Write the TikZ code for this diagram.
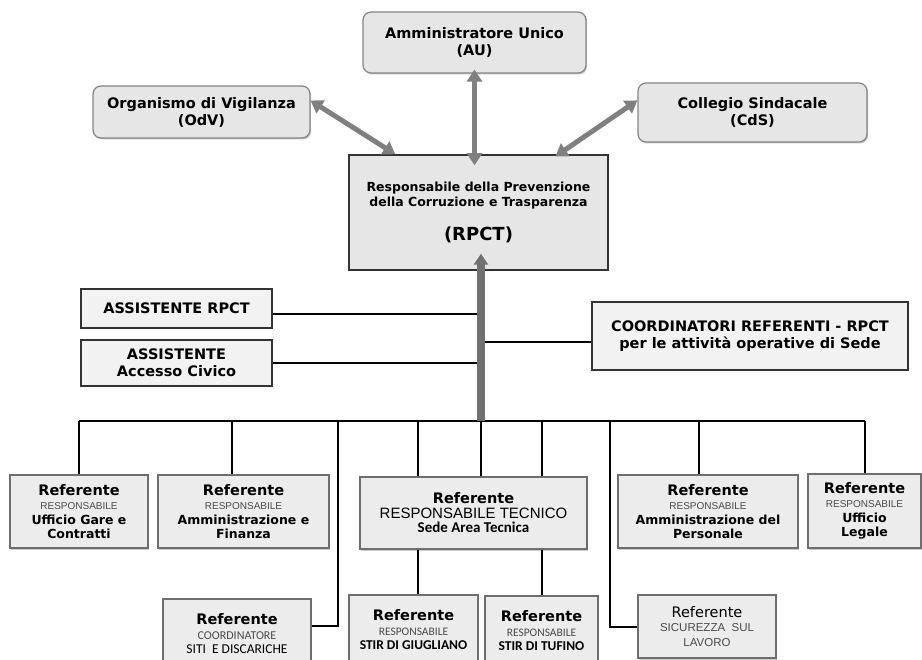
\documentclass[tikz,border=0pt]{standalone}
\usepackage{fontspec}
\setmainfont{DejaVu Sans}
\newfontfamily\arialf{Liberation Sans}
\newfontfamily\calibf{Carlito}
\usepackage{tikz}
\usetikzlibrary{calc,arrows.meta,shadows,positioning}
\definecolor{boxfill}{HTML}{E6E6E6}
\definecolor{reffill}{HTML}{ECECEC}
\definecolor{assfill}{HTML}{F2F2F2}
\definecolor{roundline}{HTML}{858585}
\definecolor{refline}{HTML}{6E6E6E}
\definecolor{arrowgray}{HTML}{808080}
\definecolor{hubgray}{HTML}{707070}
\definecolor{subgray}{HTML}{4A4A4A}
\def\reftitle{\fontsize{14.5}{17}\selectfont\bfseries}
\def\refsub{\arialf\fontsize{10}{12}\selectfont\color{subgray}}
\def\refunit{\fontsize{12.5}{14.5}\selectfont\bfseries}
\def\calsub{\calibf\fontsize{11.5}{13}\selectfont\color{subgray}}

\begin{document}
\begin{tikzpicture}[x=1pt,y=-1pt,
	topbox/.style={draw=roundline,line width=1.2pt,fill=boxfill,rounded corners=8pt,
		align=center,inner sep=0pt,font=\fontsize{14.5}{17}\selectfont\bfseries,
		drop shadow={shadow xshift=1.2pt,shadow yshift=-1.5pt,fill=black!45}},
	rpctbox/.style={draw=black!80,line width=1.5pt,fill=boxfill,align=center,inner sep=0pt,
		font=\fontsize{12.5}{15}\selectfont\bfseries,
		drop shadow={shadow xshift=1.2pt,shadow yshift=-1.5pt,fill=black!45}},
	asstbox/.style={draw=black!80,line width=1.3pt,fill=assfill,align=center,inner sep=0pt,
		font=\fontsize{14.5}{17}\selectfont\bfseries,
		drop shadow={shadow xshift=1pt,shadow yshift=-1.2pt,fill=black!40}},
	refbox/.style={draw=refline,line width=2pt,fill=reffill,align=center,inner sep=0pt,
		font=\fontsize{12.5}{14.5}\selectfont,
		drop shadow={shadow xshift=1.2pt,shadow yshift=-1.5pt,fill=black!40}},
	conn/.style={line width=2pt,black},
	garrow/.style={line width=5pt,draw=arrowgray,
		{Triangle[width=15pt,length=12pt]}-{Triangle[width=15pt,length=12pt]}},
	hubarrow/.style={line width=8pt,draw=hubgray,-{Triangle[width=14pt,length=11pt]}}]
	\useasboundingbox (0,0) rectangle (922,660);
	\clip (0,0) rectangle (922,660);
	
	%%%%%%%%%% vertice %%%%%%%%%%
	\node[topbox,minimum width=223pt,minimum height=61pt] (AU) at (474.5,42.5) {Amministratore Unico\\(AU)};
	\node[topbox,minimum width=217pt,minimum height=52pt] (OdV) at (201.5,112) {Organismo di Vigilanza\\(OdV)};
	\node[topbox,minimum width=229pt,minimum height=59pt] (CdS) at (752.5,112.5) {Collegio Sindacale\\(CdS)};
	\node[rpctbox,minimum width=259pt,minimum height=115pt] (RPCT) at (478.5,212.5)
	{Responsabile della Prevenzione\\della Corruzione e Trasparenza\\[17pt]\fontsize{18}{20}\selectfont (RPCT)};
	
	%%%%%%%%%% assistenti %%%%%%%%%%
	\node[asstbox,minimum width=191pt,minimum height=39pt] (AssRPCT) at (176.5,308.5) {ASSISTENTE RPCT};
	\node[asstbox,minimum width=191pt,minimum height=46pt] (AssAC) at (176.5,363) {ASSISTENTE\\Accesso Civico};
	\node[asstbox,minimum width=316pt,minimum height=68pt] (Coord) at (750,336)
	{COORDINATORI REFERENTI - RPCT\\per le attività operative di Sede};
	
	%%%%%%%%%% referenti %%%%%%%%%%
	\node[refbox,minimum width=138pt,minimum height=73pt] (Gare) at (79,511.5)
	{\reftitle Referente\\\refsub RESPONSABILE\\\refunit Ufficio Gare e\\\refunit Contratti};
	\node[refbox,minimum width=171pt,minimum height=73pt] (Fin) at (243.5,511.5)
	{\reftitle Referente\\\refsub RESPONSABILE\\\refunit Amministrazione e\\\refunit Finanza};
	\node[refbox,minimum width=227pt,minimum height=72pt] (Tec) at (473.5,513)
	{\reftitle Referente\\\arialf\fontsize{15}{17}\selectfont RESPONSABILE TECNICO\\\calibf\fontsize{15}{16}\selectfont\bfseries Sede Area Tecnica};
	\node[refbox,minimum width=180pt,minimum height=73pt] (Pers) at (708,511.5)
	{\reftitle Referente\\\refsub RESPONSABILE\\\refunit Amministrazione del\\\refunit Personale};
	\node[refbox,minimum width=113pt,minimum height=74pt] (Leg) at (864.5,511)
	{\reftitle Referente\\\refsub RESPONSABILE\\\refunit Ufficio\\\refunit Legale};
	
	\node[refbox,minimum width=148pt,minimum height=70pt] (Siti) at (237,634)
	{\reftitle Referente\\\calibf\fontsize{12}{13}\selectfont\color{subgray}COORDINATORE\\\calibf\fontsize{13.5}{15}\selectfont SITI \ E DISCARICHE};
	\node[refbox,minimum width=129pt,minimum height=70pt] (Giu) at (413.5,630)
	{\reftitle Referente\\\calsub RESPONSABILE\\\calibf\fontsize{13.5}{15}\selectfont\bfseries STIR DI GIUGLIANO};
	\node[refbox,minimum width=113pt,minimum height=70pt] (Tuf) at (541.5,631)
	{\reftitle Referente\\\calsub RESPONSABILE\\\calibf\fontsize{13.5}{15}\selectfont\bfseries STIR DI TUFINO};
	\node[refbox,minimum width=138pt,minimum height=63pt] (Sic) at (707,626.5)
	{\fontsize{14.5}{17}\selectfont Referente\\\arialf\fontsize{11.5}{14}\selectfont\color{subgray}SICUREZZA \ SUL\\\arialf\fontsize{11.5}{14}\selectfont\color{subgray}LAVORO};
	
	%%%%%%%%%% collegamenti %%%%%%%%%%
	\coordinate (hub) at (481,421);
	\coordinate (sitiBend) at (338,421);
	\coordinate (sicBend) at (610,421);
	
	\draw[conn] (AssRPCT.-3) -- (AssRPCT.-3 -| hub);
	\draw[conn] (AssAC.east) -- (AssAC.east -| hub);
	\draw[conn] (Coord.182) -- (Coord.182 -| hub);
	
	\draw[conn] (Gare.north |- hub) -- (Leg.north |- hub);
	\draw[conn] (Gare.north) -- (Gare.north |- hub);
	\draw[conn] (Fin.107) -- (Fin.107 |- hub);
	\draw[conn] (Giu.83 |- Tec.north) -- (Giu.83 |- hub);
	\draw[conn] (hub) -- (hub |- Tec.north);
	\draw[conn] (Tuf.north |- Tec.north) -- (Tuf.north |- hub);
	\draw[conn] (Pers.104) -- (Pers.104 |- hub);
	\draw[conn] (Leg.north) -- (Leg.north |- hub);
	\draw[conn] (Giu.83) -- (Giu.83 |- Tec.south);
	\draw[conn] (Tuf.north) -- (Tuf.north |- Tec.south);
	\draw[conn] (sitiBend) |- (Siti.6);
	\draw[conn] (sicBend) |- (Sic.west);
	
	%%%%%%%%%% frecce %%%%%%%%%%
	\draw[garrow] (OdV.6) -- (RPCT.145);
	\draw[garrow,shorten <=-4pt,shorten >=-11pt] (AU.south) -- (AU.south |- RPCT.north);
	\draw[garrow,shorten >=-4pt] (CdS.174) -- (RPCT.36);
	\draw[hubarrow,shorten >=-17pt] (hub) -- (hub |- RPCT.south);
\end{tikzpicture}
\end{document}
